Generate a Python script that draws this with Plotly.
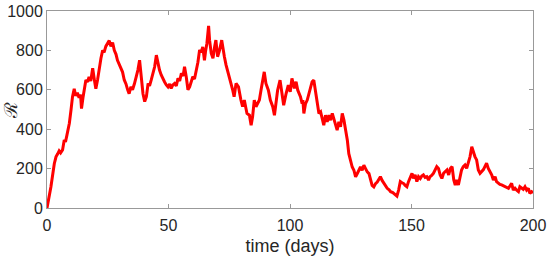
import plotly.graph_objs as go

# time (days) and R
time_days = [
    0, 1.6, 3.0, 3.7, 4.4, 5.0, 5.6, 6.4, 7.1, 7.6, 8.2, 9.2, 9.9, 10.5, 11.2, 11.8,
    12.5, 13.2, 13.8, 14.2, 14.8, 15.3, 16.0, 16.7, 17.3, 18.0, 18.8, 19.5, 20.1, 20.8,
    21.5, 22.2, 22.9, 23.5, 24.2, 24.9, 25.6, 26.3, 27.0, 27.7, 28.4, 29.0, 29.7, 30.4,
    31.1, 31.8, 32.5, 33.2, 33.8, 34.5, 35.2, 36.0, 36.7, 37.4, 38.1, 38.8, 39.5, 40.2,
    40.9, 41.6, 42.2, 42.9, 43.6, 44.3, 45.0, 45.7, 46.3, 47.0, 47.7, 48.4, 49.1, 49.8,
    50.5, 51.1, 51.8, 52.5, 53.2, 53.9, 54.6, 55.3, 56.0, 56.6, 57.3, 58.0, 58.7, 59.3,
    60.0, 60.7, 61.4, 62.1, 62.8, 63.4, 64.1, 64.8, 65.3, 65.8, 66.5, 66.9, 67.6, 68.3,
    69.0, 69.5, 70.2, 71.0, 71.9, 72.4, 73.0, 73.7, 74.3, 75.0, 75.7, 76.4, 77.0, 77.8,
    78.8, 79.3, 79.8, 80.5, 81.2, 81.8, 82.3, 83.3, 84.0, 84.6, 85.3, 86.0, 86.7, 87.4,
    88.1, 88.8, 89.4, 90.1, 91.1, 91.9, 92.9, 93.6, 94.2, 94.9, 95.9, 96.6, 97.4, 98.4,
    99.3, 100.1, 100.8, 101.8, 102.5, 103.2, 104.3, 105.0, 105.3, 105.7, 106.4, 107.1,
    108.2, 109.1, 109.8, 110.5, 111.2, 111.9, 112.6, 113.3, 113.9, 114.6, 115.3, 116.0,
    116.7, 117.4, 118.1, 118.8, 119.4, 120.1, 120.8, 121.5, 122.2, 122.9, 123.6, 124.2,
    124.9, 125.6, 126.3, 127.0, 127.7, 128.3, 129.0, 129.7, 130.4, 131.1, 131.8, 132.5,
    133.1, 133.8, 134.5, 135.2, 135.9, 136.6, 137.2, 137.9, 138.6, 139.3, 140.0, 140.8,
    141.4, 142.3, 143.3, 144.0, 144.7, 145.4, 146.1, 146.7, 147.4, 148.1, 148.8, 149.5,
    150.2, 150.8, 151.5, 152.2, 152.9, 153.6, 154.2, 154.9, 155.6, 156.3, 157.0, 157.6,
    158.3, 159.0, 159.7, 160.4, 161.1, 161.8, 162.5, 163.2, 163.9, 164.6, 165.3, 166.0,
    166.7, 167.0, 167.4, 168.0, 168.6, 169.3, 170.0, 170.6, 171.3, 172.0, 172.7, 173.4,
    174.1, 174.8, 175.4, 176.1, 176.8, 177.5, 178.2, 178.9, 179.6, 180.2, 180.9, 181.6,
    182.3, 183.0, 183.7, 184.4, 185.0, 185.7, 186.4, 187.1, 187.8, 188.5, 189.2, 189.9,
    190.5, 191.2, 191.9, 192.6, 193.3, 194.0, 194.6, 195.3, 196.0, 196.7, 197.4, 198.1,
    198.7, 199.4, 200.0,
]
R_values = [
    0, 107, 225, 260, 275, 290, 280, 295, 345, 335, 370, 430, 500, 565, 605, 570,
    585, 560, 575, 505, 560, 600, 650, 640, 665, 645, 710, 650, 605, 650,
    715, 760, 800, 790, 820, 835, 850, 820, 840, 800, 780, 750, 730, 715,
    690, 650, 630, 600, 580, 615, 600, 632, 660, 700, 750, 666, 580, 540,
    565, 632, 620, 650, 680, 717, 776, 725, 700, 675, 655, 640, 625, 615,
    630, 607, 625, 632, 620, 658, 645, 683, 670, 717, 666, 600, 615, 640,
    666, 655, 691, 740, 802, 790, 818, 750, 800, 835, 924, 852, 785, 760,
    820, 852, 768, 800, 852, 800, 768, 725, 700, 666, 640, 600, 565, 632,
    615, 575, 548, 514, 548, 510, 480, 471, 420, 463, 548, 514, 535, 548,
    600, 649, 691, 632, 598, 548, 514, 471, 530, 598, 649, 598, 522, 581,
    624, 590, 658, 607, 641, 598, 565, 530, 548, 480, 530, 548,
    607, 641, 649, 598, 548, 480, 488, 454, 420, 471, 437, 471,
    446, 480, 446, 412, 395, 437, 412, 480, 446, 395, 344, 276,
    242, 208, 192, 158, 175, 192, 208, 192, 217, 200, 183, 175,
    149, 115, 107, 124, 132, 149, 159, 140, 125, 108, 100, 92,
    83, 78, 70, 60, 91, 134, 128, 125, 115, 108, 135, 159,
    176, 150, 168, 134, 159, 150, 162, 168, 155, 159, 142, 159,
    165, 176, 195, 210, 201, 168, 150, 176, 185, 193, 168, 201,
    210, 176, 142, 117, 142, 117, 150, 193, 210, 218, 201, 227,
    261, 311, 286, 261, 244, 193, 176, 185, 195, 210, 227, 201,
    185, 168, 142, 159, 134, 125, 120, 117, 112, 108, 104, 100,
    112, 125, 91, 100, 90, 83, 108, 100, 95, 108, 91, 100,
    74, 83, 78,
]
x_ticks = [0, 50, 100, 150, 200]
y_ticks = [0, 200, 400, 600, 800, 1000]

fig = go.Figure(data=[go.Scatter(
    x=time_days, y=R_values, mode="lines",
    line=dict(color="#ff0000", width=3),
    showlegend=False,
)])

axis_style = dict(
    showline=True, linecolor="#999999", linewidth=1, mirror="ticks",
    ticks="inside", ticklen=4, tickcolor="#999999",
    showgrid=False, zeroline=False, automargin=False,
    tickfont=dict(family="Liberation Sans", size=16, color="#262626"),
)

fig.update_xaxes(range=[0, 200], tickvals=x_ticks, ticklabelstandoff=3,
                 title=dict(text="time (days)", standoff=6,
                            font=dict(family="Liberation Sans", size=18, color="#262626")),
                 **axis_style)
fig.update_yaxes(range=[0, 1000], tickvals=y_ticks, **axis_style)

fig.add_annotation(text="ℛ", xref="paper", yref="paper", x=-0.075, y=0.497,
                   showarrow=False, textangle=-90, xanchor="center", yanchor="middle",
                   font=dict(family="DejaVu Serif", size=18, color="#262626"))

fig.update_layout(
    width=550, height=262,
    margin=dict(l=47, r=17, t=11, b=54),
    plot_bgcolor="white", paper_bgcolor="white",
)

# drop the default body margin so the figure sits at the page corner
fig.write_html("out.html", config={"displayModeBar": False},
               post_script="document.body.style.margin='0';")
